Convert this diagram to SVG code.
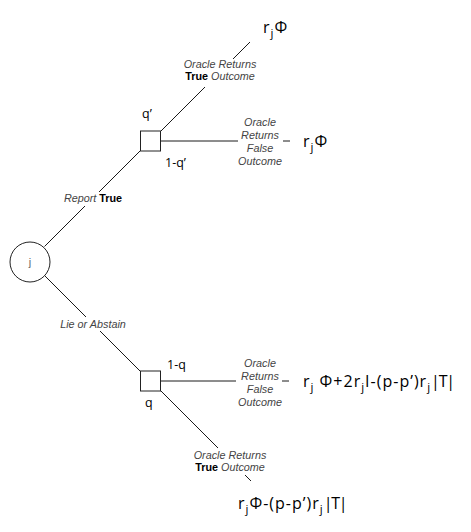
<svg xmlns="http://www.w3.org/2000/svg" width="471" height="532" viewBox="0 0 471 532">
<style>
.bg{fill:#ffffff}
.ln{stroke:#000;stroke-width:0.9;fill:none}
.node{fill:#ffffff;stroke:#222222;stroke-width:1}
.lbl{font-family:"Liberation Sans",Arial,sans-serif;font-size:10.8px;font-style:italic;fill:#444444;text-anchor:middle}
.lbl .b{font-style:normal;font-weight:bold;fill:#000000}
.pr{font-family:"Open Sans","DejaVu Sans",sans-serif;font-size:12.5px;fill:#000000}
.out{font-family:"Open Sans","DejaVu Sans",sans-serif;font-size:16px;letter-spacing:1px;fill:#000000}
.sub{font-size:11.5px}
.bar{letter-spacing:-1.2px}
.jl{font-family:"Liberation Sans",Arial,sans-serif;font-size:11px;fill:#666666;text-anchor:middle}
</style>
<rect class="bg" x="0" y="0" width="471" height="532"/>
<g id="connectors">
<line class="ln" x1="44.5" y1="246.5" x2="85" y2="206"/>
<line class="ln" x1="99" y1="192" x2="140" y2="151"/>
<line class="ln" x1="44.5" y1="275.5" x2="86" y2="317"/>
<line class="ln" x1="100" y1="331" x2="140" y2="371"/>
<line class="ln" x1="161" y1="131" x2="205" y2="87"/>
<line class="ln" x1="233" y1="59" x2="250" y2="42"/>
<line class="ln" x1="161" y1="141" x2="238" y2="141"/>
<line class="ln" x1="283" y1="141" x2="290" y2="141"/>
<line class="ln" x1="161" y1="381" x2="236" y2="381"/>
<line class="ln" x1="282" y1="381" x2="289" y2="381"/>
<line class="ln" x1="161" y1="391" x2="218" y2="448"/>
<line class="ln" x1="245" y1="475" x2="251" y2="481"/>
<text class="lbl" x="93" y="202">Report <tspan class="b">True</tspan></text>
<text class="lbl" x="93" y="328">Lie or Abstain</text>
<text class="lbl" x="220" y="68">Oracle Returns</text>
<text class="lbl" x="220" y="80"><tspan class="b">True</tspan> Outcome</text>
<text class="lbl" x="260" y="126">Oracle</text>
<text class="lbl" x="260" y="139">Returns</text>
<text class="lbl" x="260" y="152">False</text>
<text class="lbl" x="260" y="165">Outcome</text>
<text class="lbl" x="260" y="367">Oracle</text>
<text class="lbl" x="260" y="380">Returns</text>
<text class="lbl" x="260" y="393">False</text>
<text class="lbl" x="260" y="406">Outcome</text>
<text class="lbl" x="230" y="459">Oracle Returns</text>
<text class="lbl" x="230" y="471"><tspan class="b">True</tspan> Outcome</text>
</g>
<g id="node-j">
<circle cx="30" cy="262" r="20" fill="#ffffff" stroke="#222222" stroke-width="1"/>
<text class="jl" x="30" y="266">j</text>
</g>
<g id="node-top">
<rect class="node" x="140.5" y="131" width="20" height="20"/>
<text class="pr" x="142" y="118">q’</text>
<text class="pr" x="165" y="167">1-q’</text>
</g>
<g id="node-bottom">
<rect class="node" x="140.5" y="371" width="20" height="20"/>
<text class="pr" x="167" y="369">1-q</text>
<text class="pr" x="145" y="407">q</text>
</g>
<g id="outcome-1">
<text class="out" x="263" y="33">r<tspan class="sub" dy="4">j</tspan><tspan dy="-4">Φ</tspan></text>
</g>
<g id="outcome-2">
<text class="out" x="303" y="147">r<tspan class="sub" dy="4">j</tspan><tspan dy="-4">Φ</tspan></text>
</g>
<g id="outcome-3">
<text class="out" x="303" y="387">r<tspan class="sub" dy="4">j</tspan><tspan dy="-4"> Φ+2r</tspan><tspan class="sub" dy="4">j</tspan><tspan dy="-4">I-(p-p’)r</tspan><tspan class="sub" dy="4">j</tspan><tspan class="bar" dy="-4">|T|</tspan></text>
</g>
<g id="outcome-4">
<text class="out" x="238" y="509">r<tspan class="sub" dy="4">j</tspan><tspan dy="-4">Φ-(p-p’)r</tspan><tspan class="sub" dy="4">j</tspan><tspan class="bar" dy="-4">|T|</tspan></text>
</g>
</svg>
